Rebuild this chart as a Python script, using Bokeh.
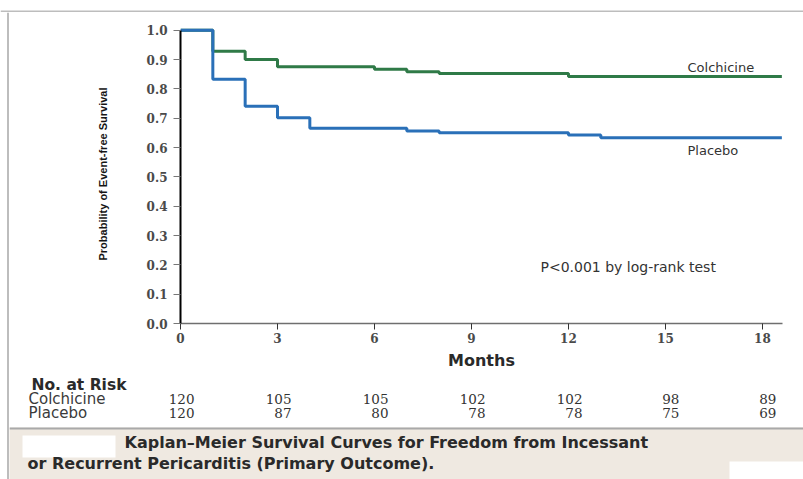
from bokeh.plotting import figure
from bokeh.layouts import column, row
from bokeh.models import Range1d, FixedTicker, Label, NumeralTickFormatter
from bokeh.core.properties import value
from bokeh.embed import file_html
from bokeh.resources import INLINE

# ---- data ----
months_col = [0, 1, 2, 3, 6, 7, 8, 12, 18.6]
surv_col = [1.0, 0.929, 0.901, 0.876, 0.867, 0.859, 0.853, 0.843, 0.843]
months_pla = [0, 1, 2, 3, 4, 7, 8, 12, 13, 18.6]
surv_pla = [1.0, 0.833, 0.741, 0.702, 0.666, 0.657, 0.651, 0.643, 0.634, 0.634]
risk_months = [0, 3, 6, 9, 12, 15, 18]
risk_col = [120, 105, 105, 102, 102, 98, 89]
risk_pla = [120, 87, 80, 78, 78, 75, 69]
x_ticks = [0, 3, 6, 9, 12, 15, 18]
y_ticks = [0.0, 0.1, 0.2, 0.3, 0.4, 0.5, 0.6, 0.7, 0.8, 0.9, 1.0]
series_names = ["Colchicine", "Placebo"]

W, H = 803, 479
TOP_H, LEFT_W = 12, 9
FL, FR, FT, FB = 180, 782, 24, 326
MAIN_H = 360           # page rows 12..372
TABLE_H = 55           # page rows 372..427
CAP_H = H - TOP_H - MAIN_H - TABLE_H
XMAX = 18.62
YMAX = 1.02
ppm = (FR - FL) / XMAX
ppy = (FB - FT) / YMAX


def dx(px):
    return (px - FL) / ppm


def dy(py):
    return (FB - py) / ppy


GREEN = "#2f7a47"
BLUE = "#2a70b8"
TXT = "#2a2a2a"
BORDER = "#bdbdbd"


def blank(w, h, xr, yr, bg="white"):
    f = figure(width=w, height=h, x_range=xr, y_range=yr, min_border=0,
               x_axis_location=None, y_axis_location=None, output_backend="svg",
               toolbar_location=None, background_fill_color=bg, border_fill_color=bg,
               frame_align=False)
    f.outline_line_color = None
    f.grid.visible = False
    return f


# strips forming the outer frame of the image
top = blank(W, TOP_H, Range1d(0, W), Range1d(TOP_H, 0))
top.quad(left=[0], right=[W], top=[10], bottom=[12.5], fill_color=BORDER, line_color=None)
left = blank(LEFT_W, H - TOP_H, Range1d(0, LEFT_W), Range1d(H, TOP_H))
left.quad(left=[6.5], right=[8.5], top=[TOP_H], bottom=[H], fill_color=BORDER, line_color=None)

# ---- main Kaplan-Meier plot ----
p = figure(width=W - LEFT_W, height=MAIN_H, x_range=Range1d(0, XMAX), y_range=Range1d(0, YMAX),
           min_border_left=FL - LEFT_W, min_border_right=W - FR, min_border_top=FT - TOP_H,
           min_border_bottom=TOP_H + MAIN_H - FB, output_backend="svg", toolbar_location=None,
           background_fill_color="white", border_fill_color="white", frame_align=False)
p.outline_line_color = None
p.grid.visible = False

p.xaxis.ticker = FixedTicker(ticks=x_ticks)
p.yaxis.ticker = FixedTicker(ticks=y_ticks)
p.yaxis.formatter = NumeralTickFormatter(format="0.0")
p.yaxis.bounds = (0, 1)
for ax in (p.xaxis, p.yaxis):
    ax.minor_tick_line_color = None
    ax.major_tick_in = 0
    ax.major_label_text_font = "DejaVu Serif"
    ax.major_label_text_font_size = "12px"
    ax.major_label_text_font_style = "bold"
    ax.major_label_text_color = "#4a4a4a"
p.xaxis.major_tick_out = 6
p.yaxis.major_tick_out = 7
p.xaxis.axis_line_color = "#6f6f6f"
p.xaxis.axis_line_width = 1.5
p.xaxis.major_tick_line_color = "#333333"
p.yaxis.axis_line_color = "black"
p.yaxis.axis_line_width = 2
p.yaxis.major_tick_line_color = "#777777"
p.xaxis.major_label_standoff = 3
p.yaxis.major_label_standoff = 6
p.xaxis.axis_label = "Months"
p.xaxis.axis_label_text_font = "DejaVu Sans"
p.xaxis.axis_label_text_font_style = "bold"
p.xaxis.axis_label_text_font_size = "16px"
p.xaxis.axis_label_text_color = TXT
p.xaxis.axis_label_standoff = 5
p.yaxis.axis_label = "Probability of Event-free Survival"
p.yaxis.axis_label_text_font = "Liberation Sans"
p.yaxis.axis_label_text_font_style = "bold"
p.yaxis.axis_label_text_font_size = "11px"
p.yaxis.axis_label_text_color = "#151515"
p.yaxis.axis_label_standoff = 35

p.step(months_col, surv_col, mode="after", line_color=GREEN, line_width=3)
p.step(months_pla, surv_pla, mode="after", line_color=BLUE, line_width=3)

p.add_layout(Label(x=dx(687), y=dy(67), text=series_names[0], text_font="DejaVu Sans",
                   text_font_size="13px", text_color="#333333", text_baseline="middle"))
p.add_layout(Label(x=dx(687), y=dy(151), text=series_names[1], text_font="DejaVu Sans",
                   text_font_size="13px", text_color="#333333", text_baseline="middle"))
p.add_layout(Label(x=dx(540), y=dy(269), text="P<0.001 by log-rank test", text_font="DejaVu Sans",
                   text_font_size="14px", text_color="#333333", text_baseline="middle"))

# ---- number at risk table (x in months, y in page pixel rows) ----
t = blank(W - LEFT_W, TABLE_H, Range1d(dx(LEFT_W), dx(W)),
          Range1d(TOP_H + MAIN_H + TABLE_H, TOP_H + MAIN_H))
t.text(x=[dx(31)], y=[384.5], text=["No. at Risk"], text_font=value("DejaVu Sans"),
       text_font_style="bold", text_font_size="15.5px", text_color=TXT, text_baseline="middle")
for name, row_vals, py in ((series_names[0], risk_col, 398.5), (series_names[1], risk_pla, 412)):
    t.text(x=[dx(28)], y=[py], text=[name], text_font=value("DejaVu Sans"),
           text_font_size="15px", text_color="#3a3a3a", text_baseline="middle")
    t.text(x=risk_months, y=[py] * len(risk_months), text=[str(n) for n in row_vals],
           x_offset=14, text_font=value("DejaVu Serif"), text_font_size="13.5px",
           text_color="#333333", text_align="right", text_baseline="middle")

# ---- caption (x, y in page pixels) ----
y0 = TOP_H + MAIN_H + TABLE_H
c = blank(W - LEFT_W, CAP_H, Range1d(LEFT_W, W), Range1d(H, y0), bg="#efe9e1")
c.quad(left=[LEFT_W], right=[W], top=[y0 - 1], bottom=[y0 + 2], fill_color="#a9a9a9", line_color=None)
c.quad(left=[22], right=[115], top=[435], bottom=[457], fill_color="white", line_color=None)
c.quad(left=[729], right=[W], top=[461], bottom=[H], fill_color="white", line_color=None)
c.text(x=[124, 27], y=[442, 463],
       text=["Kaplan\u2013Meier Survival Curves for Freedom from Incessant",
             "or Recurrent Pericarditis (Primary Outcome)."],
       text_font=value("DejaVu Sans"), text_font_style="bold", text_font_size="16px",
       text_color=TXT, text_baseline="middle")

layout = column(top, row(left, column(p, t, c, spacing=0), spacing=0), spacing=0)
open("out.html", "w").write(file_html(layout, INLINE))
